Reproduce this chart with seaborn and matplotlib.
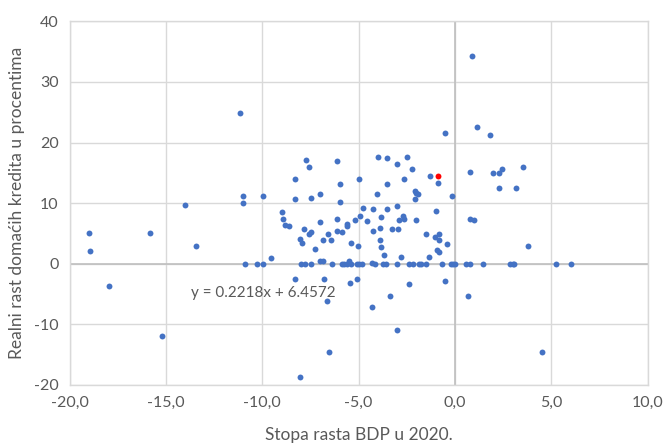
import matplotlib
matplotlib.use("Agg")
import matplotlib.pyplot as plt
import matplotlib.ticker as mticker
import numpy as np
import pandas as pd
import seaborn as sns

# GDP growth 2020 (x) vs real domestic credit growth (y)
gdp_growth = [
    -19.0, -18.93, -17.98, -15.83, -15.19, -14.0, -13.45, -11.15, -10.99, -10.99,
    -10.9, -10.26, -9.95, -9.95, -9.55, -9.0, -8.91, -8.83, -8.60, -8.29,
    -8.29, -8.29, -8.05, -8.05, -8.01, -7.96, -7.83, -7.79, -7.74, -7.57,
    -7.57, -7.49, -7.48, -7.49, -7.25, -7.01, -7.01, -7.01, -6.85, -6.85,
    -6.79, -6.63, -6.61, -6.53, -6.46, -6.37, -6.14, -6.14, -6.14, -5.99,
    -5.99, -5.89, -5.88, -5.77, -5.59, -5.59, -5.6, -5.5, -5.42, -5.44,
    -5.4, -5.19, -5.11, -5.08, -5.02, -4.97, -4.95, -4.99, -4.85, -4.79,
    -4.56, -4.31, -4.31, -4.24, -4.24, -4.16, -4.07, -3.99, -3.91, -3.91,
    -3.83, -3.83, -3.76, -3.67, -3.59, -3.52, -3.52, -3.52, -3.36, -3.29,
    -3.03, -3.03, -3.03, -3.03, -2.96, -2.9, -2.81, -2.72, -2.65, -2.65,
    -2.48, -2.41, -2.41, -2.25, -2.17, -2.10, -2.08, -2.01, -1.93, -2.01,
    -1.86, -1.77, -1.53, -1.53, -1.37, -1.30, -1.06, -0.97, -0.92, -0.90,
    -0.82, -0.82, -0.82, -0.67, -0.51, -0.51, -0.42, -0.22, -0.18, -0.11,
    0.0, 0.59, 0.69, 0.76, 0.77, 0.77, 0.86, 1.0, 1.15, 1.47,
    1.81, 1.97, 2.28, 2.28, 2.43, 2.87, 2.99, 3.08, 3.16, 3.54,
    3.78, 4.49, 5.22, 6.02,
]
credit_growth = [
    5.0, 2.1, -3.6, 5.0, -11.85, 9.7, 2.95, 24.8, 11.2, 9.95,
    0.0, 0.0, 0.0, 11.2, 0.9, 8.5, 7.4, 6.45, 6.2, 14.0,
    10.7, -2.6, 4.15, -18.7, 0.0, 3.4, 5.7, 0.0, 17.2, 15.95,
    4.9, 10.9, 5.2, 0.0, 2.4, 11.5, 6.9, 0.5, 0.5, 3.9,
    -2.6, -6.1, 4.9, -14.6, 3.9, 0.0, 17.0, 7.4, 5.45, 13.2,
    10.2, 5.2, 0.0, 0.0, 6.2, 6.5, 0.0, 0.5, 3.4, -3.1,
    0.0, 7.2, -2.6, 0.0, 2.9, 14.0, 7.9, 0.0, 0.0, 9.2,
    7.0, 0.2, -7.2, 9.0, 5.45, 0.0, 11.5, 17.7, 5.95, 3.9,
    7.7, 2.7, 0.0, 1.4, 0.0, 17.5, 13.2, 9.0, -5.4, 5.7,
    16.4, 9.5, 0.0, -10.9, 5.7, 7.2, 1.15, 7.9, 14.0, 7.4,
    17.7, 0.0, -3.4, 15.7, 0.0, 10.7, 12.0, 11.7, 11.5, 7.2,
    0.0, 0.0, 4.9, 0.0, 1.15, 14.5, 4.4, 8.7, 2.2, 13.4,
    4.9, 3.9, 1.9, 0.0, 21.5, -2.9, 3.2, 0.0, 11.2, 0.0,
    0.0, 0.0, -5.4, 0.0, 15.2, 7.4, 34.3, 7.2, 22.5, 0.0,
    21.3, 15.0, 15.0, 12.5, 15.7, 0.0, 0.0, 0.0, 12.5, 15.95,
    2.95, -14.6, 0.0, 0.0,
]
# highlighted country
highlight_x = [-0.90]
highlight_y = [14.5]

x_ticks = [-20, -15, -10, -5, 0, 5, 10]
y_ticks = [-20, -10, 0, 10, 20, 30, 40]
equation = "y = 0.2218x + 6.4572"

df = pd.DataFrame({"x": gdp_growth, "y": credit_growth})
df_hl = pd.DataFrame({"x": highlight_x, "y": highlight_y})

sns.set_style("white")
plt.rcParams["font.family"] = ["Lato", "DejaVu Sans"]

text_color = "#595959"
grid_color = "#d9d9d9"

fig = plt.figure(figsize=(6.63, 4.46), dpi=100)
ax = fig.add_axes([0.105, 0.137, 0.872, 0.815])

sns.scatterplot(data=df, x="x", y="y", ax=ax, color="#4472c4", s=18,
                linewidth=0, zorder=3)
sns.scatterplot(data=df_hl, x="x", y="y", ax=ax, color="#ff0000", s=18,
                linewidth=0, zorder=4)

ax.set_xlim(-20, 10)
ax.set_ylim(-20, 40)
ax.set_xticks(x_ticks)
ax.set_yticks(y_ticks)
ax.xaxis.set_major_formatter(
    mticker.FuncFormatter(lambda v, p: f"{v:.1f}".replace(".", ",")))
ax.yaxis.set_major_formatter(mticker.FuncFormatter(lambda v, p: f"{v:.0f}"))

ax.grid(True, color=grid_color, linewidth=1.0, zorder=0)
ax.set_axisbelow(True)
for side in ax.spines.values():
    side.set_color(grid_color)
    side.set_linewidth(1.0)

# darker zero axes as in Excel
ax.axvline(0, color="#bfbfbf", linewidth=1.2, zorder=1)
ax.axhline(0, color="#bfbfbf", linewidth=1.2, zorder=1)

ax.tick_params(axis="both", length=0, labelsize=11.5, colors=text_color, pad=8)

ax.set_xlabel("Stopa rasta BDP u 2020.", fontsize=12.5, color=text_color,
              labelpad=12)
ax.set_ylabel("Realni rast domaćih kredita u procentima", fontsize=12.5,
              color=text_color, labelpad=6)

ax.text(-13.7, -4.8, equation, fontsize=11, color=text_color,
        va="center", ha="left", zorder=5)

fig.savefig("out.png", dpi=100)
